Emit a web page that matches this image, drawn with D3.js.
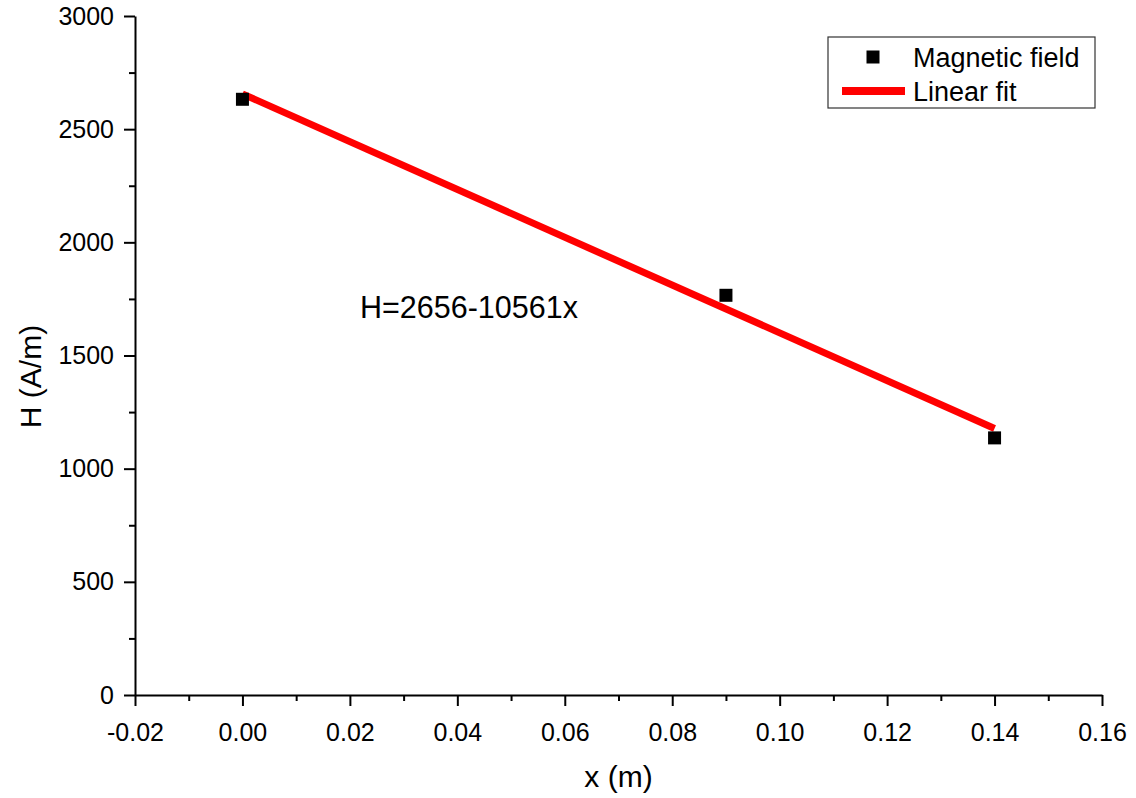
<!DOCTYPE html>
<html>
<head>
<meta charset="utf-8">
<script src="https://cdn.jsdelivr.net/npm/d3@7"></script>
<style>
  html, body { margin: 0; padding: 0; background: #fff; }
  svg { display: block; font-family: "Liberation Sans", Arial, sans-serif; }
</style>
</head>
<body>
<svg id="chart" width="1136" height="798"></svg>
<script>
// ---- data ----
const xPositions = [0.00, 0.09, 0.14];
const fieldValues = [2632, 1766, 1136];
const fitIntercept = 2656;
const fitSlope = -10561;
const fitRange = [0.00, 0.14];
const xTickValues = [-0.02, 0.00, 0.02, 0.04, 0.06, 0.08, 0.10, 0.12, 0.14, 0.16];
const yTickValues = [0, 500, 1000, 1500, 2000, 2500, 3000];
const seriesNames = ["Magnetic field", "Linear fit"];
const equationText = "H=2656-10561x";
const xTitle = "x (m)";
const yTitle = "H (A/m)";

// ---- layout ----
const svg = d3.select("#chart");
const mLeft = 135, mRight = 1102, mTop = 16, mBottom = 695;

const x = d3.scaleLinear().domain([-0.02, 0.16]).range([mLeft, mRight]);
const y = d3.scaleLinear().domain([0, 3000]).range([mBottom, mTop]);

const minorX = d3.range(-0.02, 0.1601, 0.01).map(v => +v.toFixed(3)).filter(v => !xTickValues.some(t => Math.abs(t - v) < 1e-9));
const minorY = d3.range(0, 3001, 250).filter(v => !yTickValues.includes(v));

// minor ticks
svg.append("g").attr("transform", `translate(0,${mBottom})`)
  .call(d3.axisBottom(x).tickValues(minorX).tickSize(6).tickFormat("").tickSizeOuter(0))
  .call(g => g.select(".domain").remove())
  .call(g => g.selectAll("line").attr("stroke", "#000").attr("stroke-width", 2));
svg.append("g").attr("transform", `translate(${mLeft},0)`)
  .call(d3.axisLeft(y).tickValues(minorY).tickSize(6).tickFormat("").tickSizeOuter(0))
  .call(g => g.select(".domain").remove())
  .call(g => g.selectAll("line").attr("stroke", "#000").attr("stroke-width", 2));

// major axes
const xAxis = svg.append("g").attr("transform", `translate(0,${mBottom})`)
  .call(d3.axisBottom(x).tickValues(xTickValues).tickFormat(d => d.toFixed(2)).tickSize(11).tickPadding(17).tickSizeOuter(0));
const yAxis = svg.append("g").attr("transform", `translate(${mLeft},0)`)
  .call(d3.axisLeft(y).tickValues(yTickValues).tickFormat(d => String(d)).tickSize(11).tickPadding(10).tickSizeOuter(0));
[xAxis, yAxis].forEach(g => {
  g.select(".domain").attr("stroke", "#000").attr("stroke-width", 2);
  g.selectAll(".tick line").attr("stroke", "#000").attr("stroke-width", 2);
  g.selectAll(".tick text").attr("fill", "#000").style("font-size", "25px").style("font-family", "Liberation Sans, Arial, sans-serif");
});

// axis titles
svg.append("text").attr("x", (mLeft + mRight) / 2).attr("y", 787)
  .attr("text-anchor", "middle").style("font-size", "30px").text(xTitle);
svg.append("text").attr("transform", `translate(41,${(mTop + mBottom) / 2 + 21}) rotate(-90)`)
  .attr("text-anchor", "middle").style("font-size", "30px").text(yTitle);

// fit line
const fitLine = d3.line().x(d => x(d)).y(d => y(fitIntercept + fitSlope * d));
svg.append("path").datum(fitRange).attr("d", fitLine)
  .attr("fill", "none").attr("stroke", "#ff0000").attr("stroke-width", 7);

// points
const ms = 13;
svg.selectAll("rect.pt").data(xPositions.map((v, i) => [v, fieldValues[i]])).enter()
  .append("rect").attr("class", "pt")
  .attr("x", d => x(d[0]) - ms / 2).attr("y", d => y(d[1]) - ms / 2)
  .attr("width", ms).attr("height", ms).attr("fill", "#000");

// equation
svg.append("text").attr("x", 360).attr("y", 318).style("font-size", "30.5px").text(equationText);

// legend
const lg = svg.append("g");
lg.append("rect").attr("x", 828).attr("y", 37).attr("width", 267).attr("height", 71)
  .attr("fill", "#fff").attr("stroke", "#333").attr("stroke-width", 1.2);
lg.append("rect").attr("x", 873 - ms / 2).attr("y", 57 - ms / 2).attr("width", ms).attr("height", ms).attr("fill", "#000");
lg.append("line").attr("x1", 842).attr("x2", 905).attr("y1", 91).attr("y2", 91)
  .attr("stroke", "#ff0000").attr("stroke-width", 8);
lg.append("text").attr("x", 913).attr("y", 67).style("font-size", "27px").text(seriesNames[0]);
lg.append("text").attr("x", 913).attr("y", 101).style("font-size", "27px").text(seriesNames[1]);
</script>
</body>
</html>
